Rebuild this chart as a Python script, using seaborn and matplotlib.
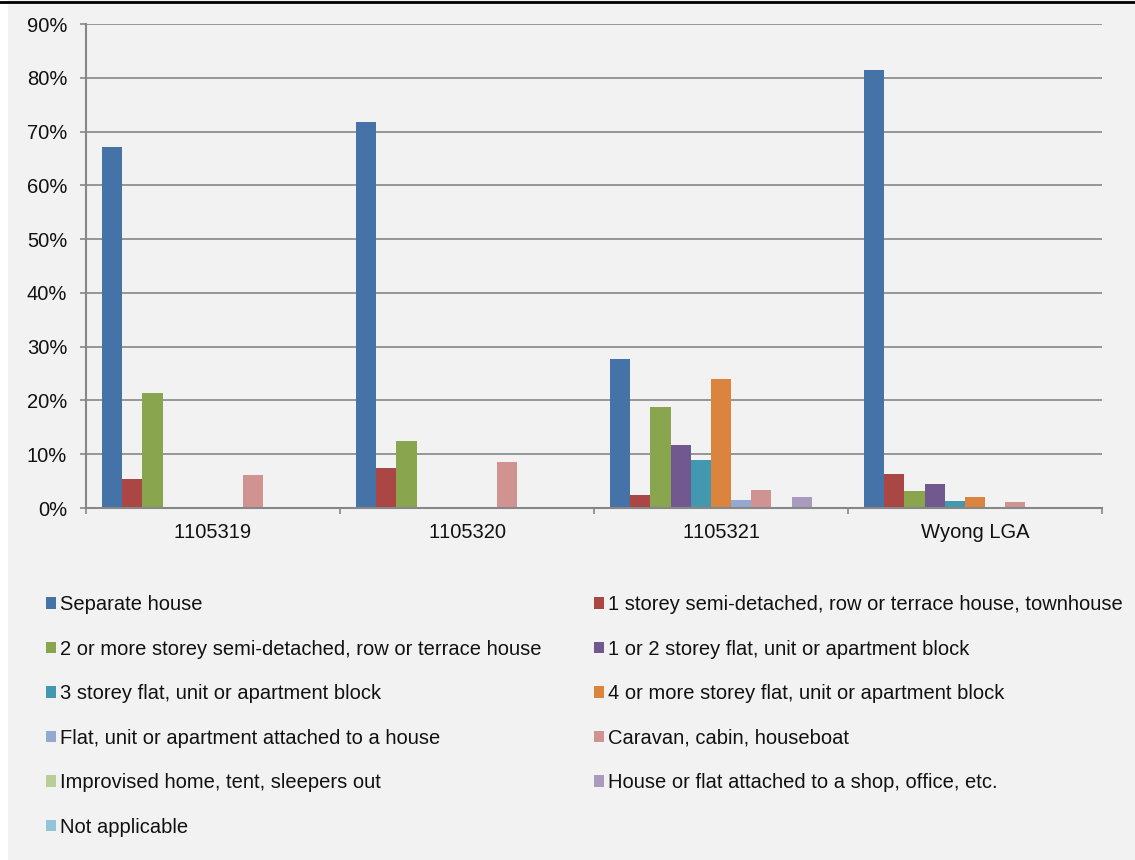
import matplotlib
matplotlib.use("Agg")
import matplotlib.pyplot as plt
from matplotlib.lines import Line2D
from matplotlib.patches import Rectangle
from matplotlib.ticker import FixedLocator, PercentFormatter
import numpy as np
import pandas as pd
import seaborn as sns

# Dwelling structure by area (share of occupied private dwellings)
areas = ["1105319", "1105320", "1105321", "Wyong LGA"]

dwelling_types = [
    "Separate house",
    "1 storey semi-detached, row or terrace house, townhouse",
    "2 or more storey semi-detached, row or terrace house",
    "1 or 2 storey flat, unit or apartment block",
    "3 storey flat, unit or apartment block",
    "4 or more storey flat, unit or apartment block",
    "Flat, unit or apartment attached to a house",
    "Caravan, cabin, houseboat",
    "Improvised home, tent, sleepers out",
    "House or flat attached to a shop, office, etc.",
    "Not applicable",
]

separate_house = [0.671, 0.717, 0.277, 0.814]
semi_1_storey = [0.053, 0.075, 0.025, 0.063]
semi_2_storey = [0.213, 0.124, 0.188, 0.032]
flat_1_2_storey = [0.0, 0.0, 0.118, 0.044]
flat_3_storey = [0.0, 0.0, 0.089, 0.013]
flat_4_storey = [0.0, 0.0, 0.240, 0.020]
flat_attached_house = [0.0, 0.0, 0.0155, 0.0]
caravan = [0.061, 0.085, 0.0335, 0.012]
improvised = [0.0, 0.0, 0.0, 0.0]
attached_shop = [0.0, 0.0, 0.020, 0.0]
not_applicable = [0.0, 0.0, 0.0, 0.0]

series_values = [
    separate_house, semi_1_storey, semi_2_storey, flat_1_2_storey,
    flat_3_storey, flat_4_storey, flat_attached_house, caravan,
    improvised, attached_shop, not_applicable,
]

palette = [
    "#4572A7", "#AA4643", "#89A54E", "#71588F", "#4198AF", "#DB843D",
    "#93A9CF", "#D19392", "#B9CD96", "#A99BBD", "#92C5D7",
]

y_ticks = [0.0, 0.1, 0.2, 0.3, 0.4, 0.5, 0.6, 0.7, 0.8, 0.9]

rows = []
for dtype, vals in zip(dwelling_types, series_values):
    for area, v in zip(areas, vals):
        rows.append({"area": area, "type": dtype, "share": v})
df = pd.DataFrame(rows)

sns.set_theme(style="white")
plt.rcParams["font.family"] = ["Liberation Sans", "DejaVu Sans"]
plt.rcParams["text.color"] = "#111111"
# effectively switch off pair kerning (keeps "11" evenly spaced)
plt.rcParams["text.kerning_factor"] = 20

fs = 14.5
bg = "#F2F2F2"
grid_c = "#878787"
W, H = 1135, 860
fig = plt.figure(figsize=(W / 100, H / 100), dpi=100, facecolor=bg)
ax = fig.add_axes([86 / W, 1 - 508 / H, (1102 - 86) / W, (508 - 24) / H])
ax.set_facecolor(bg)

sns.barplot(
    data=df, x="area", y="share", hue="type", order=areas,
    hue_order=dwelling_types, palette=palette, width=0.874,
    linewidth=0, saturation=1, ax=ax, legend=True,
)

handles, labels = ax.get_legend_handles_labels()
ax.get_legend().remove()

ax.set_ylim(0, 0.9)
ax.set_xlim(-0.5, len(areas) - 0.5)
ax.yaxis.set_major_locator(FixedLocator(y_ticks))
ax.yaxis.set_major_formatter(PercentFormatter(1.0, decimals=0))
ax.grid(axis="y", color=grid_c, linewidth=1.2)
ax.set_axisbelow(True)
ax.set_xlabel("")
ax.set_ylabel("")

for side in ["top", "right"]:
    ax.spines[side].set_visible(False)
for side in ["left", "bottom"]:
    ax.spines[side].set_color(grid_c)
    ax.spines[side].set_linewidth(1.5)

ax.tick_params(axis="y", which="major", length=4.5, width=1.2, color=grid_c,
               pad=9, labelsize=fs, left=True, labelcolor="#111111")
ax.tick_params(axis="x", which="major", length=0, pad=11, labelsize=fs,
               labelcolor="#111111")
ax.set_xticks(np.arange(-0.5, len(areas)), minor=True)
ax.tick_params(axis="x", which="minor", length=4, width=1.2, color=grid_c,
               bottom=True)

# legend laid out row-wise across two columns
order = [0, 2, 4, 6, 8, 10, 1, 3, 5, 7, 9]
fig.legend(
    [handles[i] for i in order], [labels[i] for i in order],
    ncol=2, loc="upper left", bbox_to_anchor=(46 / W, 1 - 595 / H),
    frameon=False, fontsize=fs, handlelength=0.5, handleheight=0.5,
    handletextpad=0.2, labelspacing=1.27, columnspacing=2.58,
    borderpad=0, borderaxespad=0,
)

# page border strip and rule above the chart area
fig.patches.append(Rectangle((0, 0), 8 / W, 1, transform=fig.transFigure,
                             facecolor="white", edgecolor="none", zorder=0))
fig.add_artist(Line2D([0, 1], [1 - 1.5 / H, 1 - 1.5 / H],
                      transform=fig.transFigure, color="black", linewidth=2))

fig.savefig("out.png", dpi=100, facecolor=bg)
